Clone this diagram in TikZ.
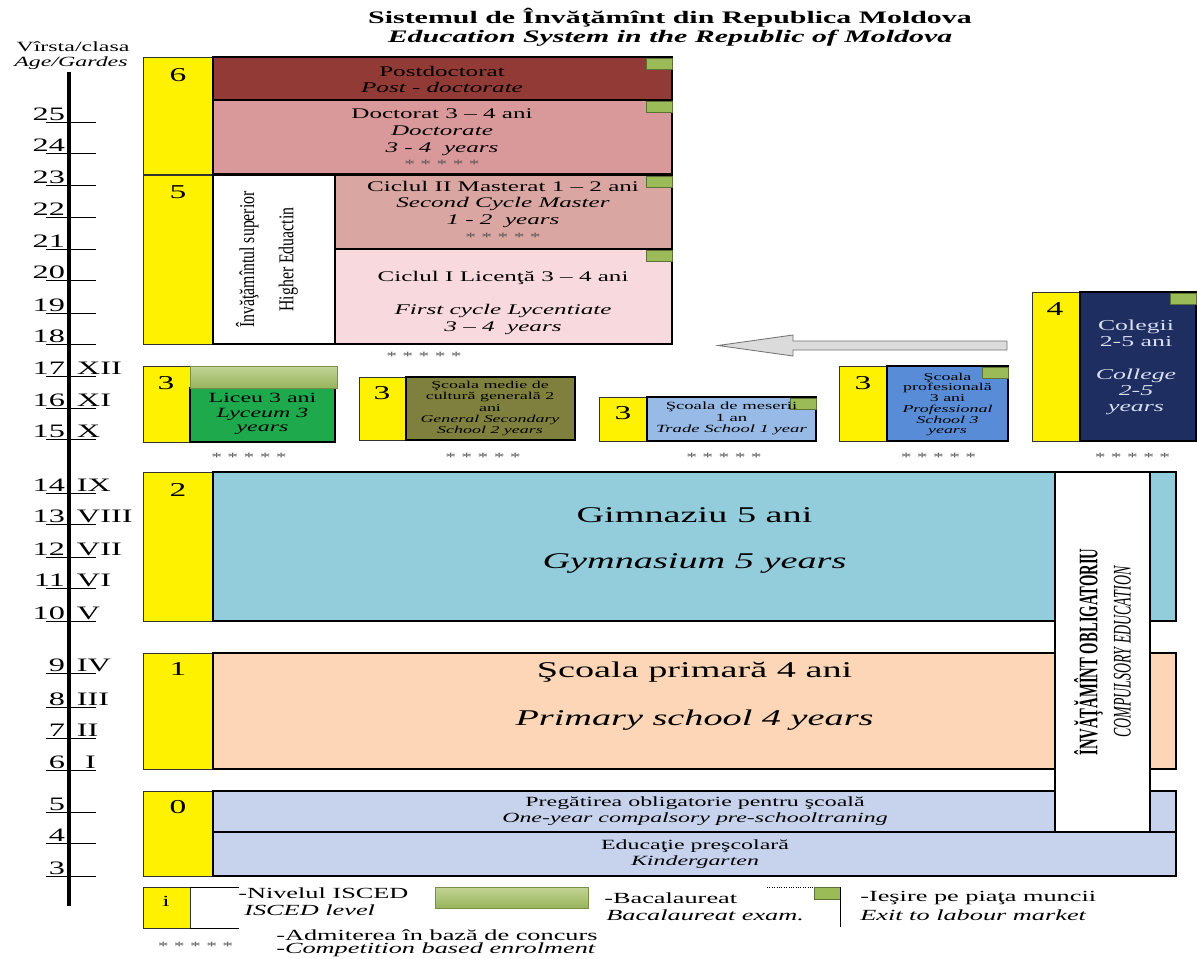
\documentclass[tikz,border=0pt]{standalone}
\usepackage{fontspec}
\setmainfont{Liberation Serif}[FakeStretch=1.7]
\newfontfamily\compfont{Liberation Serif}[FakeStretch=0.55]
\newfontfamily\hefont{Liberation Serif}[FakeStretch=0.75]
\usetikzlibrary{calc}

\definecolor{postdoc}{RGB}{146,58,54}
\definecolor{doct}{RGB}{217,152,153}
\definecolor{mast}{RGB}{218,166,162}
\definecolor{lic}{RGB}{248,218,222}
\definecolor{lyc}{RGB}{30,170,76}
\definecolor{gensec}{RGB}{128,128,62}
\definecolor{trade}{RGB}{152,186,230}
\definecolor{prof}{RGB}{88,140,214}
\definecolor{coll}{RGB}{31,46,96}
\definecolor{colltext}{RGB}{215,222,240}
\definecolor{gym}{RGB}{147,205,220}
\definecolor{prim}{RGB}{252,214,182}
\definecolor{presch}{RGB}{199,211,236}
\definecolor{bactop}{RGB}{196,212,150}
\definecolor{bacbot}{RGB}{150,180,92}
\definecolor{flag}{RGB}{155,187,89}

\tikzset{
  lvl/.style={draw=black!80, fill=yellow, line width=0.7pt},
  box/.style={draw=black, line width=0.8pt},
  bacbar/.style={draw=bacbot!80!black, line width=0.4pt, top color=bactop, bottom color=bacbot},
  exitflag/.style={draw=flag!60!black, line width=0.4pt, fill=flag},
  fatarrow/.style={draw=black!55, line width=0.6pt, fill=black!14},
  tick/.style={line width=0.6pt},
  title/.style={font=\bfseries\fontsize{12.5}{15}\selectfont},
  age/.style={font=\fontsize{13.5}{14}\selectfont, inner sep=0.5pt},
  num/.style={font=\fontsize{14}{16}\selectfont},
  txt/.style={align=center, inner sep=0pt, font=\fontsize{10.5}{11.8}\selectfont},
  big/.style={inner sep=0pt, font=\fontsize{16}{18}\selectfont},
  small/.style={align=center, inner sep=0pt, font=\fontsize{7.6}{8}\selectfont},
  stars/.style={inner sep=0pt, text=black!65, font=\fontsize{9}{10}\selectfont},
  legend/.style={anchor=west, inner sep=0pt, font=\fontsize{11}{12}\selectfont},
}

\begin{document}
\begin{tikzpicture}[x=0.025cm, y=-0.025cm]
\useasboundingbox[fill=white] (0,0) rectangle (1197,959);

% title
\node[title] (title1) at (670,18) {Sistemul de Învăţămînt din Republica Moldova};
\node[title, font=\bfseries\itshape\fontsize{12.5}{15}\selectfont] (title2) at (670,38) {Education System in the Republic of Moldova};

% age axis
\node[inner sep=0pt, font=\fontsize{10}{11}\selectfont] (agehead) at (73,47) {Vîrsta/clasa};
\node[inner sep=0pt, font=\itshape\fontsize{10}{11}\selectfont] (agehead2) at (71,63) {Age/Gardes};
\draw[line width=2.2pt] (69,72) -- (69,906);
\foreach \a/\r/\y in {25//122, 24//153, 23//185, 22//217, 21//249, 20//280, 19//313, 18//344,
  17/XII/376, 16/XI/408, 15/X/439, 14/IX/493, 13/VIII/524, 12/VII/557, 11/VI/588, 10/V/621,
  9/IV/673, 8/III/707, 7/II/738, 6/~I/770, 5//812, 4//843, 3//876}{
  \draw[tick] (46,\y) -- (96,\y);
  \node[age, anchor=base east] (age\a) at (66,\y-2) {\a};
  \node[age, anchor=base west] (grade\a) at (76,\y-2) {\r};
}

% higher education
\draw[lvl] (143,57) rectangle (213,174);
\draw[box, fill=postdoc] (213,57) rectangle (672,100);
\draw[box, fill=doct] (213,100) rectangle (672,174);
\draw[lvl] (143,175) rectangle (213,344);
\draw[box, fill=white] (213,175) rectangle (335,344);
\draw[box, fill=mast] (335,175) rectangle (672,249);
\draw[box, fill=lic] (335,249) rectangle (672,344);

% upper secondary
\draw[lvl] (143,366) rectangle (190,442);
\draw[box, fill=lyc] (190,388) rectangle (335,442);
\draw[bacbar] (190,366) rectangle (337,388);
\draw[lvl] (359,377) rectangle (406,440);
\draw[box, fill=gensec] (406,377) rectangle (575,440);
\draw[lvl] (599,397) rectangle (647,441);
\draw[box, fill=trade] (647,397) rectangle (816,441);
\draw[lvl] (839,366) rectangle (887,441);
\draw[box, fill=prof] (887,366) rectangle (1008,441);
\draw[lvl] (1032,292) rectangle (1080,441);
\draw[box, fill=coll] (1080,292) rectangle (1196,441);

% gymnasium, primary, preschool
\draw[lvl] (143,472) rectangle (213,621);
\draw[box, fill=gym] (213,472) rectangle (1176,621);
\draw[lvl] (143,653) rectangle (213,769);
\draw[box, fill=prim] (213,653) rectangle (1176,769);
\draw[lvl] (143,791) rectangle (213,876);
\draw[box, fill=presch] (213,791) rectangle (1176,832);
\draw[box, fill=presch] (213,832) rectangle (1176,876);
\draw[box, fill=white] (1055,472) rectangle (1150,832);

% exit to labour market
\foreach \x/\y in {672/57, 672/100, 672/175, 672/249, 816/397, 1008/366, 1196/292}
  \draw[exitflag] (\x-26,\y+1) rectangle (\x+0.5,\y+12);

% ISCED levels
\node[num] (lvl6) at (178,75) {6};
\node[num] (lvl5) at (178,192) {5};
\node[num] (lvl3a) at (166,383) {3};
\node[num] (lvl3b) at (382,393) {3};
\node[num] (lvl3c) at (623,413) {3};
\node[num] (lvl3d) at (863,383) {3};
\node[num] (lvl4) at (1055,309) {4};
\node[num] (lvl2) at (178,490) {2};
\node[num] (lvl1) at (178,669) {1};
\node[num] (lvl0) at (178,807) {0};

% texts
\node[txt] (postdoctxt) at (442,79.5) {Postdoctorat\\\textit{Post - doctorate}};
\node[txt] (docttxt) at (442,139) {Doctorat 3 – 4 ani\\\textit{Doctorate}\\\textit{3 - 4~ years}\\{\color{black!65}\fontsize{9}{10}\selectfont * * * * *}};
\node[txt] (masttxt) at (503,211) {Ciclul II Masterat 1 – 2 ani\\\textit{Second Cycle Master}\\\textit{1 - 2~ years}\\{\color{black!65}\fontsize{9}{10}\selectfont * * * * *}};
\node[txt] (lictxt) at (503,278) {Ciclul I Licenţă 3 – 4 ani};
\node[txt] (lictxt2) at (503,319.5) {\textit{First cycle Lycentiate}\\\textit{3 – 4~ years}};
\node[rotate=90, align=center, inner sep=0pt, font=\hefont\fontsize{15}{28}\selectfont] (hetxt) at (267,259.5) {Învăţămîntul superior\\Higher Eduactin};
\node[stars] (licstars) at (424,356) {* * * * *};

\node[txt, font=\fontsize{10}{10.5}\selectfont] (lyctxt) at (262.5,414) {Liceu 3 ani\\\textit{Lyceum 3}\\\textit{years}};
\node[small, font=\fontsize{7.5}{8}\selectfont] (gensectxt) at (490,408.5) {Şcoala medie de\\cultură generală 2\\ani\\\textit{General Secondary}\\\textit{School 2 years}};
\node[small, font=\fontsize{7.8}{8.2}\selectfont] (tradetxt) at (731.5,418.5) {Şcoala de meserii\\1 an\\\textit{Trade School 1 year}};
\node[small, font=\fontsize{7.5}{7.6}\selectfont] (proftxt) at (947.5,404.5) {Şcoala\\profesională\\3 ani\\\textit{Professional}\\\textit{School 3}\\\textit{years}};
\node[txt, text=colltext, font=\fontsize{10.8}{11.5}\selectfont] (colltxt) at (1136,367.5) {Colegii\\2-5 ani\\[11.5pt]\textit{College}\\\textit{2-5}\\\textit{years}};
\foreach \x/\n in {249/a, 483/b, 724/c, 938.5/d, 1132.5/e}
  \node[stars] (stars\n) at (\x,457) {* * * * *};

\node[big] (gymtxt) at (694.5,515) {Gimnaziu 5 ani};
\node[big, font=\itshape\fontsize{16}{18}\selectfont] (gymtxt2) at (694.5,563) {Gymnasium 5 years};
\node[big] (primtxt) at (694.5,672) {Şcoala primară 4 ani};
\node[big, font=\itshape\fontsize{16}{18}\selectfont] (primtxt2) at (694.5,720) {Primary school 4 years};
\node[txt, font=\fontsize{10}{11.4}\selectfont] (preptxt) at (695,811) {Pregătirea obligatorie pentru şcoală\\\textit{One-year compalsory pre-schooltraning}};
\node[txt, font=\fontsize{10}{11.4}\selectfont] (kindtxt) at (695,854) {Educaţie preşcolară\\\textit{Kindergarten}};
\node[rotate=90, align=center, inner sep=0pt, font=\compfont\fontsize{19}{23.5}\selectfont] (comptxt) at (1102.5,652) {{\bfseries ÎNVĂŢĂMÎNT OBLIGATORIU}\\{\itshape\fontsize{18}{23.5}\selectfont COMPULSORY EDUCATION}};

% arrow from colleges to higher education
\coordinate (colltail) at (1007,345.5);
\coordinate (hetip) at (718,345.5);
\draw[fatarrow] ($(colltail)+(0,-4.5)$) -- ($(hetip)+(75,-4.5)$) -- ($(hetip)+(75,-10.5)$) -- (hetip)
  -- ($(hetip)+(75,10.5)$) -- ($(hetip)+(75,4.5)$) -- ($(colltail)+(0,4.5)$) -- cycle;

% legend
\draw[lvl] (143,887) rectangle (190,928);
\draw[tick] (190,887) -- (239,887);
\draw[tick] (190,928) -- (239,928);
\node[num, font=\fontsize{11}{12}\selectfont] (lvli) at (166,901) {i};
\node[legend] (isced) at (238,893) {-Nivelul ISCED};
\node[legend, font=\itshape\fontsize{11}{12}\selectfont] (isced2) at (244,910) {ISCED level};
\draw[bacbar] (435,887) rectangle (588,908);
\node[legend] (bac) at (604,898) {-Bacalaureat};
\node[legend, font=\itshape\fontsize{11}{12}\selectfont] (bac2) at (606,915) {Bacalaureat exam.};
\draw[densely dotted, line width=0.7pt] (767,887) -- (814,887);
\draw[exitflag] (814,887) rectangle (840,899);
\draw[line width=0.6pt] (840,887) -- (840,927);
\node[legend] (exit) at (860,898) {-Ieşire pe piaţa muncii};
\node[legend, font=\itshape\fontsize{11}{12}\selectfont] (exit2) at (860,915) {Exit to labour market};
\node[stars] (legstars) at (195.5,946) {* * * * *};
\node[legend] (adm) at (276,935) {-Admiterea în bază de concurs};
\node[legend, font=\itshape\fontsize{11}{12}\selectfont] (adm2) at (276,950) {-Competition based enrolment};
\end{tikzpicture}
\end{document}
